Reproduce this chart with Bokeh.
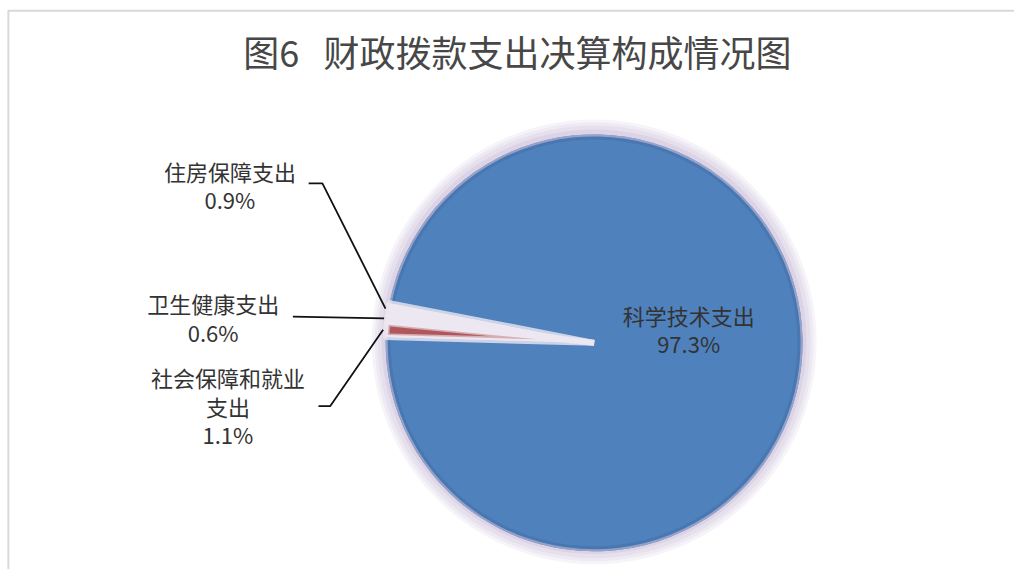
import numpy as np
from bokeh.plotting import figure
from bokeh.models import Range1d, ColumnDataSource
from bokeh.core.properties import value
from bokeh.embed import file_html
from bokeh.resources import INLINE

# ---------------- data ----------------
title_text = "图6\u00a0\u00a0\u00a0财政拨款支出决算构成情况图"
categories = ["社会保障和就业支出", "卫生健康支出", "住房保障支出", "科学技术支出"]
shares = [1.1, 0.6, 0.9, 97.3]
label_names = [["社会保障和就业", "支出"], ["卫生健康支出"], ["住房保障支出"], ["科学技术支出"]]
slice_colors = ["#b0575b", "#ece7f1", "#ece7f1", "#4f81bd"]

# ---------------- layout ----------------
W, H = 1014, 569
SX, SY = W / 1030, H / 585
FONT = "Noto Sans CJK SC"


def px(X, Y):
    return X * SX, H - Y * SY


cx, cy = px(603, 352)
R = 213 * (SX + SY) / 2
start = np.deg2rad(178.4)

p = figure(width=W, height=H, output_backend="svg", toolbar_location=None,
           x_range=Range1d(0, W), y_range=Range1d(0, H),
           x_axis_type=None, y_axis_type=None, min_border=0)
p.grid.visible = False
p.outline_line_color = None
p.background_fill_color = "white"
p.border_fill_color = "white"

# frame border lines (left and top)
bx0, by0 = px(8, 10.5)
p.line([bx0, bx0, W], [0, by0, by0], line_color="#d9d9d9", line_width=2)

# angles from data
fr = np.array(shares, dtype=float)
fr = fr / fr.sum()
cum = np.concatenate([[0.0], np.cumsum(fr)[:-1]])
a_hi = start - cum * 2 * np.pi
a_lo = a_hi - fr * 2 * np.pi
mid = (a_hi + a_lo) / 2

# halo
for extra, col in [(14, "#f6f4f9"), (11, "#eeeaf3"), (8, "#e6e0ed"), (4, "#dcd4e6")]:
    p.annulus(x=[cx], y=[cy + 1], inner_radius=R - 1, outer_radius=R + extra,
              fill_color=col, line_color=None)

# main (blue) slice
big = 3
p.wedge(x=[cx], y=[cy], radius=R, start_angle=[a_lo[big]], end_angle=[a_hi[big]],
        fill_color=slice_colors[big], line_color=None)
p.annular_wedge(x=[cx], y=[cy], inner_radius=R - 5, outer_radius=R,
                start_angle=[a_lo[big]], end_angle=[a_hi[big]],
                fill_color="#3b659c", fill_alpha=0.35, line_color=None)
p.annular_wedge(x=[cx], y=[cy], inner_radius=R - 2, outer_radius=R,
                start_angle=[a_lo[big]], end_angle=[a_hi[big]],
                fill_color="#c9c0d8", fill_alpha=0.6, line_color=None)

# small slices: soft light base
small = [0, 1, 2]
src_small = ColumnDataSource(dict(
    start=[a_lo[i] for i in small], end=[a_hi[i] for i in small]))
p.wedge(x=cx, y=cy, radius=R, start_angle="start", end_angle="end", source=src_small,
        fill_color="#ece7f1", line_color="#ece7f1", line_width=6, line_alpha=0.8)


def inset_wedge(lo, hi, d, n=30):
    half = (hi - lo) / 2
    b = (hi + lo) / 2
    t = d / np.sin(half)
    rr = R - d
    da = np.arcsin(d / rr)
    angs = np.linspace(lo + da, hi - da, n)
    xs = [cx + t * np.cos(b)] + list(cx + rr * np.cos(angs))
    ys = [cy + t * np.sin(b)] + list(cy + rr * np.sin(angs))
    return xs, ys


# coloured cores of small slices (soft edges)
for i in small:
    if slice_colors[i] != "#ece7f1":
        xs, ys = inset_wedge(a_lo[i], a_hi[i], 2.0)
        p.patch(xs, ys, fill_color="#c47e83", fill_alpha=0.55, line_color=None)
        xs, ys = inset_wedge(a_lo[i], a_hi[i], 3.6)
        p.patch(xs, ys, fill_color=slice_colors[i], line_color=None)

# leader lines
rim = R + 3
elbows = {0: [(323, 417), (335, 417)], 1: [(297, 325)], 2: [(313, 188), (327, 188)]}
lxs, lys = [], []
for i, pts in elbows.items():
    xs = [px(*q)[0] for q in pts] + [cx + rim * np.cos(mid[i])]
    ys = [px(*q)[1] for q in pts] + [cy + rim * np.sin(mid[i])]
    lxs.append(xs)
    lys.append(ys)
p.multi_line(lxs, lys, line_color="#111111", line_width=1.8)

# labels
anchors = {0: (231, 387), 1: (216, 311), 2: (233, 175), 3: (699, 323)}
step = 29.5
tx, ty, tt = [], [], []
for i, (ax, ay) in anchors.items():
    lines = label_names[i] + [f"{shares[i]}%"]
    for k, s in enumerate(lines):
        x, y = px(ax, ay + k * step)
        tx.append(x)
        ty.append(y)
        tt.append(s)
p.text(x=tx, y=ty, text=tt, text_font=value(FONT), text_font_size="22px",
       text_align="center", text_baseline="middle", text_color="#333333")

# title
ttx, tty = px(525, 52)
p.text(x=[ttx], y=[tty], text=[title_text], text_font=value(FONT), text_font_size="36px",
       text_align="center", text_baseline="middle", text_color="#474747")

open("out.html", "w").write(file_html(p, INLINE))
